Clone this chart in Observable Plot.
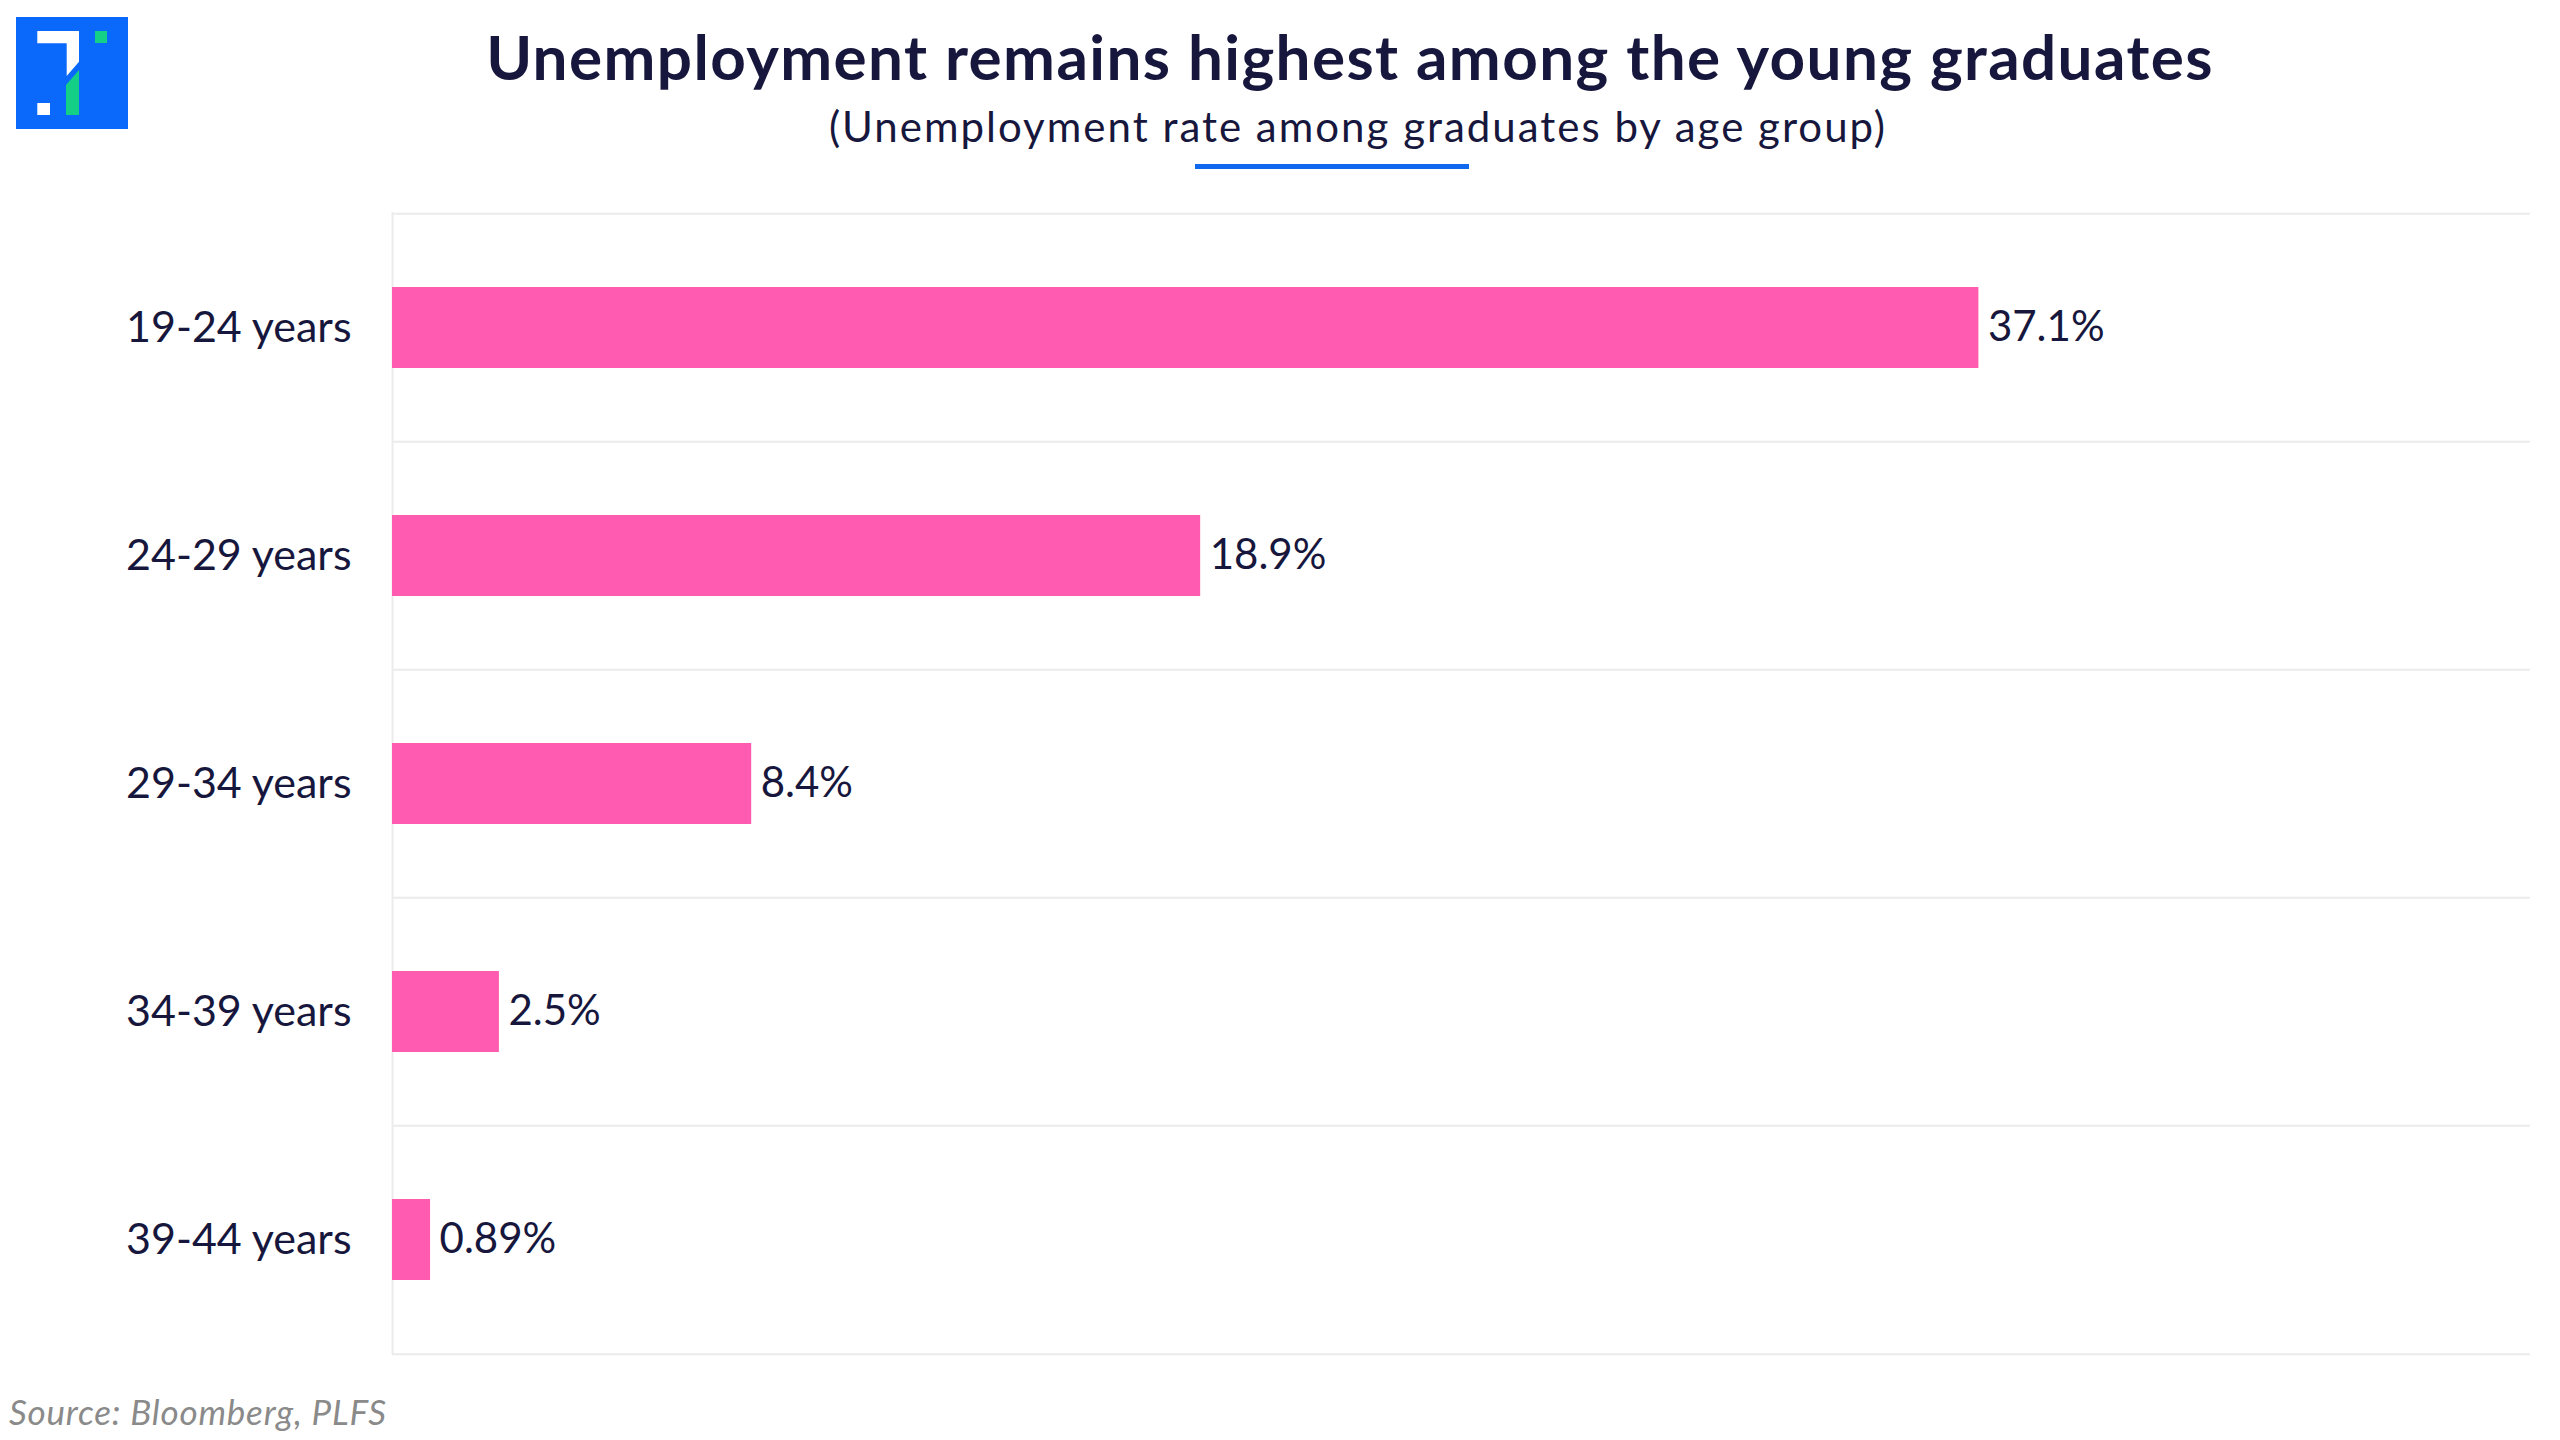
<!DOCTYPE html>
<html>
<head>
<meta charset="utf-8">
<script src="https://cdn.jsdelivr.net/npm/d3@7"></script>
<script src="https://cdn.jsdelivr.net/npm/@observablehq/plot@0.6"></script>
<style>
  html, body { margin: 0; padding: 0; background: #ffffff; }
  #page { position: relative; width: 2560px; height: 1440px; background: #fff; font-family: Lato, "Open Sans", sans-serif; overflow: hidden; }
  #logo { position: absolute; left: 16px; top: 17px; width: 112px; height: 112px; }
  #title { position: absolute; left: 0; width: 2700px; top: 19px; text-align: center; font-size: 62px; font-weight: 700; color: #17173d; letter-spacing: 1.4px; }
  #subtitle { position: absolute; left: 0; width: 2716px; top: 101px; text-align: center; font-size: 42px; font-weight: 400; color: #17173d; letter-spacing: 2px; }
  #underline { position: absolute; left: 1195px; top: 164px; width: 274px; height: 5px; background: #1068ee; }
  #chart { position: absolute; left: 0; top: 188px; }
  #source { position: absolute; left: 9px; top: 1390px; font-size: 35px; font-style: italic; color: #8a8a8a; letter-spacing: 0.8px; }
</style>
</head>
<body>
<div id="page">
  <svg id="logo" viewBox="0 0 112 112">
    <rect x="0" y="0" width="112" height="112" fill="#0a68fb"/>
    <polygon points="21.3,14 63,14 63,44.7 50.7,59 50.7,26.3 21.3,26.3" fill="#ffffff"/>
    <polygon points="63,53 63,98 50,98 50,68" fill="#14cf86"/>
    <rect x="79" y="14" width="12" height="12" fill="#14cf86"/>
    <rect x="21.3" y="86" width="12.7" height="12" fill="#ffffff"/>
  </svg>
  <div id="title">Unemployment remains highest among the young graduates</div>
  <div id="subtitle">(Unemployment rate among graduates by age group)</div>
  <div id="underline"></div>
  <div id="chart"></div>
  <div id="source">Source: Bloomberg, PLFS</div>
</div>
<script>
const ageGroups = ["19-24 years", "24-29 years", "29-34 years", "34-39 years", "39-44 years"];
const rates = [37.1, 18.9, 8.4, 2.5, 0.89];

const data = ageGroups.map((g, i) => ({group: g, rate: rates[i]}));

const W = 2560, H = 1189;
const mTop = 24, mBottom = 23, mLeft = 392, mRight = 30;
const step = (H - mTop - mBottom) / ageGroups.length;
const ink = "#17173d";
const gridColor = "#ebebeb";

const chart = Plot.plot({
  width: W,
  height: H,
  marginTop: mTop,
  marginBottom: mBottom,
  marginLeft: mLeft,
  marginRight: mRight,
  style: {fontFamily: "Lato, 'Open Sans', sans-serif", background: "transparent"},
  x: {domain: [0, 50], axis: null},
  y: {domain: ageGroups, paddingInner: 0.645, paddingOuter: 0.3225, label: null},
  marks: [
    Plot.ruleY(ageGroups, {y: d => d, dy: -step / 2, stroke: gridColor, strokeWidth: 2}),
    Plot.ruleY([ageGroups[ageGroups.length - 1]], {y: d => d, dy: step / 2, stroke: gridColor, strokeWidth: 2}),
    Plot.ruleX([0], {stroke: gridColor, strokeWidth: 2}),
    Plot.barX(data, {x: "rate", y: "group", fill: "#ff5bb1"}),
    Plot.text(data, {x: "rate", y: "group", text: d => d.rate + "%", textAnchor: "start", dx: 9, fontSize: 42, fill: ink}),
    Plot.axisY({tickSize: 0, tickPadding: 41, fontSize: 43, color: ink, label: null})
  ]
});
document.getElementById("chart").appendChild(chart);
</script>
</body>
</html>
